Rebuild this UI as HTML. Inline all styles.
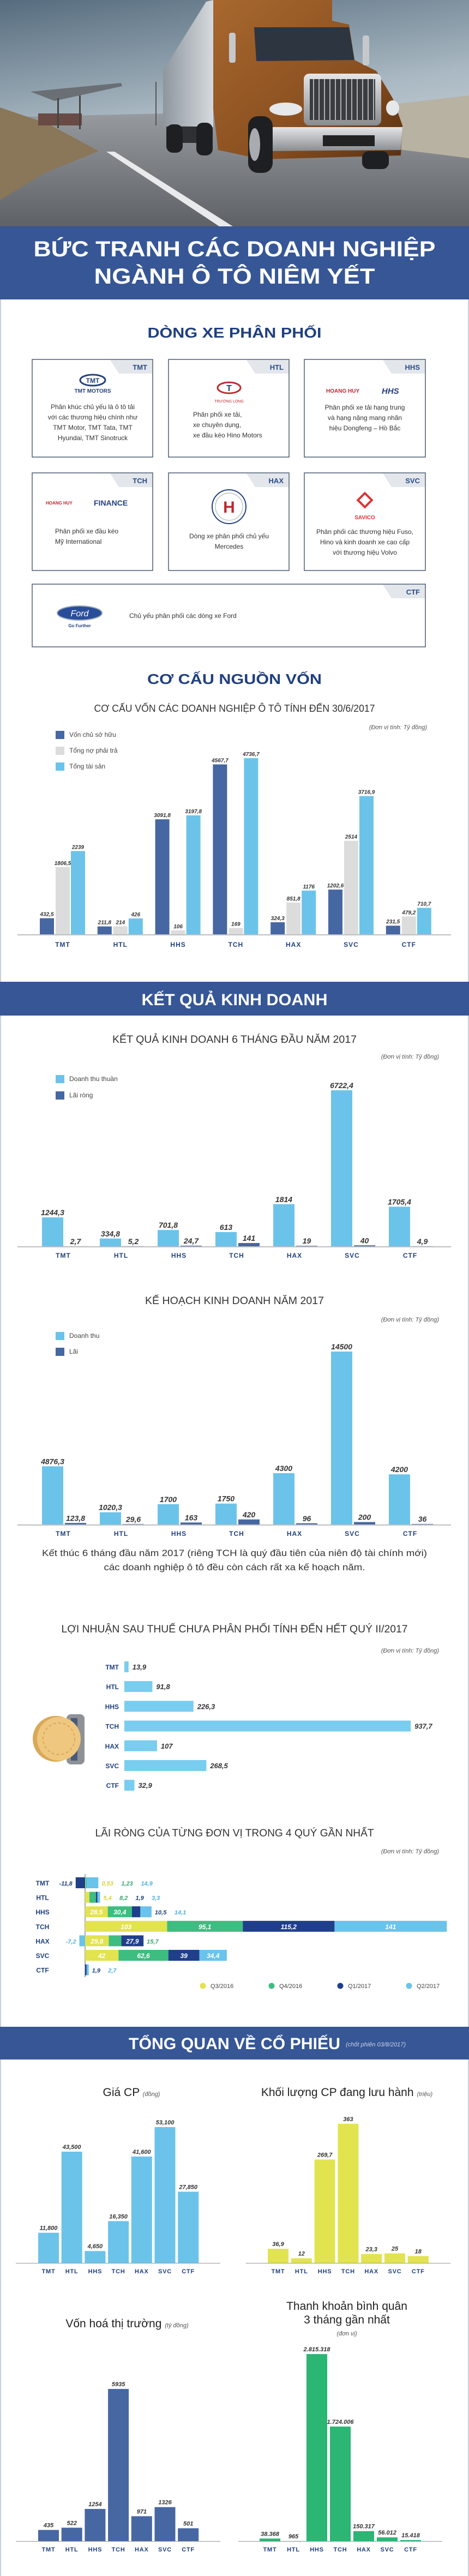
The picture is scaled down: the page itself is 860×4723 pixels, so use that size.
<!DOCTYPE html>
<html><head><meta charset="utf-8">
<style>
html,body{margin:0;padding:0;background:#fff;}
body{width:860px;height:4723px;overflow:hidden;position:relative;}
svg{position:absolute;left:0;top:0;}
text{font-family:"Liberation Sans",sans-serif;}
</style></head>
<body>
<svg id="page" width="860" height="4723" viewBox="0 0 860 4723">
<defs>
<linearGradient id="sky" x1="0" y1="0" x2="0.3" y2="1">
<stop offset="0" stop-color="#566c7e"/><stop offset="0.55" stop-color="#a9b8c2"/><stop offset="1" stop-color="#d3dadf"/>
</linearGradient>
<linearGradient id="road" x1="0" y1="0" x2="0" y2="1">
<stop offset="0" stop-color="#9a9ea2"/><stop offset="1" stop-color="#5e6267"/>
</linearGradient>
<linearGradient id="cab" x1="0" y1="0" x2="1" y2="1">
<stop offset="0" stop-color="#a8682f"/><stop offset="0.6" stop-color="#8a5020"/><stop offset="1" stop-color="#5a3012"/>
</linearGradient>
<linearGradient id="trailer" x1="0" y1="0" x2="1" y2="0">
<stop offset="0" stop-color="#8e969e"/><stop offset="1" stop-color="#d6dade"/>
</linearGradient>
<linearGradient id="chrome" x1="0" y1="0" x2="0" y2="1">
<stop offset="0" stop-color="#e4e6e8"/><stop offset="1" stop-color="#8a8d90"/>
</linearGradient>
</defs>
<!-- hero photo -->
<g>
<rect x="0" y="0" width="860" height="415" fill="url(#sky)"/>
<polygon points="0,215 860,195 860,415 0,415" fill="url(#road)"/>
<polygon points="690,195 860,175 860,290 700,270" fill="#b7b2a2"/>
<polygon points="0,197 88,227 181,277 82,317 0,367" fill="#8a7658"/>
<polygon points="195,278 210,278 430,417 405,417" fill="#e8eaec"/>
<polygon points="56,168 222,152 224,158 100,185" fill="#6a6f75"/>
<rect x="70" y="208" width="80" height="22" fill="#6a4a44"/>
<rect x="105" y="180" width="3" height="55" fill="#444"/><rect x="145" y="175" width="3" height="62" fill="#444"/>
<rect x="285" y="150" width="2" height="80" fill="#555"/>
<polygon points="299,130 378,3 391,0 391,233 299,230" fill="url(#trailer)"/>
<rect x="305" y="232" width="60" height="30" fill="#2e3034"/>
<polygon points="391,0 609,0 609,38 640,45 650,110 690,130 720,180 738,230 735,285 480,292 400,275 391,200" fill="url(#cab)"/>
<polygon points="466,50 640,50 650,110 470,112" fill="#2d3540"/>
<rect x="420" y="60" width="12" height="55" rx="4" fill="#c6c9cc"/>
<rect x="665" y="65" width="12" height="55" rx="4" fill="#c6c9cc"/>
<rect x="557" y="135" width="142" height="95" rx="10" fill="url(#chrome)"/>
<rect x="568" y="145" width="120" height="75" fill="#3a3c40"/>
<g stroke="#aeb1b4" stroke-width="2">
<line x1="575" y1="145" x2="575" y2="220"/><line x1="585" y1="145" x2="585" y2="220"/><line x1="595" y1="145" x2="595" y2="220"/><line x1="605" y1="145" x2="605" y2="220"/><line x1="615" y1="145" x2="615" y2="220"/><line x1="625" y1="145" x2="625" y2="220"/><line x1="635" y1="145" x2="635" y2="220"/><line x1="645" y1="145" x2="645" y2="220"/><line x1="655" y1="145" x2="655" y2="220"/><line x1="665" y1="145" x2="665" y2="220"/><line x1="675" y1="145" x2="675" y2="220"/><line x1="685" y1="145" x2="685" y2="220"/>
</g>
<ellipse cx="524" cy="200" rx="30" ry="12" fill="#e6e8ea"/>
<ellipse cx="720" cy="198" rx="12" ry="14" fill="#e6e8ea"/>
<polygon points="483,233 738,233 735,275 490,277" fill="url(#chrome)"/>
<rect x="592" y="248" width="95" height="20" fill="#222"/>
<rect x="455" y="213" width="45" height="104" rx="18" fill="#1e1f22"/>
<ellipse cx="467" cy="265" rx="10" ry="30" fill="#a8abaf"/>
<rect x="664" y="277" width="49" height="33" rx="12" fill="#1e1f22"/>
<rect x="360" y="225" width="30" height="60" rx="12" fill="#1e1f22"/>
<rect x="305" y="228" width="30" height="52" rx="12" fill="#1e1f22"/>
</g>
<!-- title banner -->
<rect x="0" y="415" width="860" height="134" fill="#365696"/>
<text x="430" y="470" text-anchor="middle" font-size="40" font-weight="bold" fill="#fff" textLength="737" lengthAdjust="spacingAndGlyphs">BỨC TRANH CÁC DOANH NGHIỆP</text>
<text x="430" y="520" text-anchor="middle" font-size="40" font-weight="bold" fill="#fff" textLength="515" lengthAdjust="spacingAndGlyphs">NGÀNH Ô TÔ NIÊM YẾT</text>
<!-- page side frame -->
<line x1="1" y1="549" x2="1" y2="4723" stroke="#c9d0da" stroke-width="2"/>
<line x1="859" y1="549" x2="859" y2="4723" stroke="#c9d0da" stroke-width="2"/>

<text x="430" y="619" text-anchor="middle" font-size="26" font-weight="bold" fill="#1f3f7f" textLength="319" lengthAdjust="spacingAndGlyphs">DÒNG XE PHÂN PHỐI</text>
<g id="cards"></g>

<text x="430" y="1254" text-anchor="middle" font-size="26" font-weight="bold" fill="#1f3f7f" textLength="320" lengthAdjust="spacingAndGlyphs">CƠ CẤU NGUỒN VỐN</text>
<text x="430" y="1305" text-anchor="middle" font-size="18" fill="#333" textLength="515" lengthAdjust="spacingAndGlyphs">CƠ CẤU VỐN CÁC DOANH NGHIỆP Ô TÔ TÍNH ĐẾN 30/6/2017</text>
<text x="783" y="1337" text-anchor="end" font-size="11" font-style="italic" fill="#555">(Đơn vị tính: Tỷ đồng)</text>

<rect x="0" y="1800" width="860" height="62" fill="#365696"/>
<text x="430" y="1843" text-anchor="middle" font-size="30" font-weight="bold" fill="#fff" textLength="341" lengthAdjust="spacingAndGlyphs">KẾT QUẢ KINH DOANH</text>

<text x="430" y="1912" text-anchor="middle" font-size="19" fill="#333" textLength="448" lengthAdjust="spacingAndGlyphs">KẾT QUẢ KINH DOANH 6 THÁNG ĐẦU NĂM 2017</text>
<text x="805" y="1941" text-anchor="end" font-size="11" font-style="italic" fill="#555">(Đơn vị tính: Tỷ đồng)</text>

<text x="430" y="2391" text-anchor="middle" font-size="19" fill="#333" textLength="328" lengthAdjust="spacingAndGlyphs">KẾ HOẠCH KINH DOANH NĂM 2017</text>
<text x="805" y="2423" text-anchor="end" font-size="11" font-style="italic" fill="#555">(Đơn vị tính: Tỷ đồng)</text>

<text x="430" y="2853" text-anchor="middle" font-size="17" fill="#333" textLength="706" lengthAdjust="spacingAndGlyphs">Kết thúc 6 tháng đầu năm 2017 (riêng TCH là quý đầu tiên của niên độ tài chính mới)</text>
<text x="430" y="2879" text-anchor="middle" font-size="17" fill="#333" textLength="479" lengthAdjust="spacingAndGlyphs">các doanh nghiệp ô tô đều còn cách rất xa kế hoạch năm.</text>

<text x="430" y="2993" text-anchor="middle" font-size="19" fill="#333" textLength="635" lengthAdjust="spacingAndGlyphs">LỢI NHUẬN SAU THUẾ CHƯA PHÂN PHỐI TÍNH ĐẾN HẾT QUÝ II/2017</text>
<text x="805" y="3030" text-anchor="end" font-size="11" font-style="italic" fill="#555">(Đơn vị tính: Tỷ đồng)</text>
<g>
<rect x="122" y="3143" width="33" height="92" rx="8" fill="#8e9196"/>
<rect x="130" y="3150" width="12" height="78" fill="#4a5a7a"/>
<circle cx="102" cy="3188" r="42" fill="#d9a95a"/>
<circle cx="108" cy="3188" r="40" fill="#efc77f"/>
<circle cx="108" cy="3188" r="29" fill="none" stroke="#d9a95a" stroke-width="2" stroke-dasharray="5 4"/>
</g>

<text x="430" y="3367" text-anchor="middle" font-size="19" fill="#333" textLength="511" lengthAdjust="spacingAndGlyphs">LÃI RÒNG CỦA TỪNG ĐƠN VỊ TRONG 4 QUÝ GẦN NHẤT</text>
<text x="805" y="3398" text-anchor="end" font-size="11" font-style="italic" fill="#555">(Đơn vị tính: Tỷ đồng)</text>

<rect x="0" y="3716" width="860" height="60" fill="#365696"/>
<text x="430" y="3757" text-anchor="middle" font-size="30" font-weight="bold" fill="#fff" textLength="388" lengthAdjust="spacingAndGlyphs">TỔNG QUAN VỀ CỔ PHIẾU</text>
<text x="634" y="3752" font-size="11" font-style="italic" fill="#c9d3e6">(chốt phiên 03/8/2017)</text>

<text x="241" y="3843" text-anchor="middle" font-size="21" fill="#222">Giá CP <tspan font-size="11" font-style="italic" fill="#555">(đồng)</tspan></text>
<text x="636" y="3843" text-anchor="middle" font-size="21" fill="#222">Khối lượng CP đang lưu hành <tspan font-size="11" font-style="italic" fill="#555">(triệu)</tspan></text>
<text x="233" y="4267" text-anchor="middle" font-size="21" fill="#222">Vốn hoá thị trường <tspan font-size="11" font-style="italic" fill="#555">(tỷ đồng)</tspan></text>
<text x="636" y="4235" text-anchor="middle" font-size="21" fill="#222">Thanh khoản bình quân</text>
<text x="636" y="4260" text-anchor="middle" font-size="21" fill="#222">3 tháng gần nhất</text>
<text x="636" y="4282" text-anchor="middle" font-size="11" font-style="italic" fill="#555">(đơn vị)</text>

<g id="charts"></g>
</svg>
<script>
const categories = ['TMT','HTL','HHS','TCH','HAX','SVC','CTF'];
const capEquity = [432.5, 211.8, 3091.8, 4567.7, 324.3, 1202.6, 231.5];
const capDebt = [1806.5, 214, 106, 169, 851.8, 2514, 479.2];
const capAssets = [2239, 426, 3197.8, 4736.7, 1176, 3716.9, 710.7];
const h1Revenue = [1244.3, 334.8, 701.8, 613, 1814, 6722.4, 1705.4];
const h1Profit = [2.7, 5.2, 24.7, 141, 19, 40, 4.9];
const planRevenue = [4876.3, 1020.3, 1700, 1750, 4300, 14500, 4200];
const planProfit = [123.8, 29.6, 163, 420, 96, 200, 36];
const retainedProfit = [13.9, 91.8, 226.3, 937.7, 107, 268.5, 32.9];
const profitQ3_2016 = [0.53, 5.4, 28.5, 103, 29.8, 42, 0];
const profitQ4_2016 = [1.23, 8.2, 30.4, 95.1, 15.7, 62.6, 0];
const profitQ1_2017 = [-11.8, 1.9, 10.5, 115.2, 27.9, 39, 1.9];
const profitQ2_2017 = [14.9, 3.3, 14.1, 141, -7.2, 34.4, 2.7];
const quarterLabels = ['Q3/2016','Q4/2016','Q1/2017','Q2/2017'];
const sharePrice = [11800, 43500, 4650, 16350, 41600, 53100, 27850];
const sharesOutstanding = [36.9, 12, 269.7, 363, 23.3, 25, 18];
const marketCap = [435, 522, 1254, 5935, 971, 1326, 501];
const avgLiquidity = [38368, 965, 2815318, 1724006, 150317, 56012, 15418];

const NS = 'http://www.w3.org/2000/svg';
const root = document.getElementById('charts');
function mk(tag, attrs, parent) {
  const e = document.createElementNS(NS, tag);
  for (const k in attrs) e.setAttribute(k, attrs[k]);
  (parent || root).appendChild(e);
  return e;
}
function txt(str, attrs, parent) { const t = mk('text', attrs, parent); t.textContent = str; return t; }
const vn = v => String(v).replace('.', ',');
const thousandsComma = v => String(v).replace(/\B(?=(\d{3})+(?!\d))/g, ',');
const thousandsDot = v => String(v).replace(/\B(?=(\d{3})+(?!\d))/g, '.');

/* ---------- cards ---------- */
const cardsG = document.getElementById('cards');
const cardDefs = [
  {code:'TMT', x:59, y:659, w:221, h:179, lines:['Phân khúc chủ yếu là ô tô tải','với các thương hiệu chính như','TMT Motor, TMT Tata, TMT','Hyundai, TMT Sinotruck'], tx:170, ty:750, anchor:'middle'},
  {code:'HTL', x:309, y:659, w:221, h:179, lines:['Phân phối xe tải,','xe chuyên dụng,','xe đầu kéo Hino Motors'], tx:354, ty:764, anchor:'start'},
  {code:'HHS', x:558, y:659, w:222, h:179, lines:['Phân phối xe tải hạng trung','và hạng nặng mang nhãn','hiệu Dongfeng – Hồ Bắc'], tx:669, ty:751, anchor:'middle'},
  {code:'TCH', x:59, y:867, w:221, h:179, lines:['Phân phối xe đầu kéo','Mỹ International'], tx:101, ty:978, anchor:'start'},
  {code:'HAX', x:309, y:867, w:221, h:179, lines:['Dòng xe phân phối chủ yếu','Mercedes'], tx:420, ty:987, anchor:'middle'},
  {code:'SVC', x:558, y:867, w:222, h:179, lines:['Phân phối các thương hiệu Fuso,','Hino và kinh doanh xe cao cấp','với thương hiệu Volvo'], tx:669, ty:979, anchor:'middle'},
  {code:'CTF', x:59, y:1071, w:721, h:115, lines:['Chủ yếu phân phối các dòng xe Ford'], tx:237, ty:1133, anchor:'start'}
];
cardDefs.forEach(c => {
  const g = mk('g', {}, cardsG);
  
  
  mk('rect', {x:c.x, y:c.y, width:c.w, height:c.h, fill:'#fff', stroke:'#4c5c72', 'stroke-width':1.5}, g);
  const r = c.x + c.w;
  mk('polygon', {points:`${r-78},${c.y+1} ${r-1},${c.y+1} ${r-1},${c.y+26} ${r-62},${c.y+26}`, fill:'#e3e7ec'}, g);
  txt(c.code, {x:r-10, y:c.y+19, 'text-anchor':'end', 'font-size':13, 'font-weight':'bold', fill:'#2a4a8a'}, g);
  c.lines.forEach((l, i) => txt(l, {x:c.tx, y:c.ty + i*19, 'text-anchor':c.anchor, 'font-size':12, fill:'#333'}, g));
});
/* logos */
(function(){
  const g = mk('g', {}, cardsG);
  
  
  mk('ellipse', {cx:170, cy:697, rx:23, ry:10, fill:'none', stroke:'#22407f', 'stroke-width':3}, g);
  txt('TMT', {x:170, y:702, 'text-anchor':'middle', 'font-size':12, 'font-weight':'bold', fill:'#22407f'}, g);
  txt('TMT MOTORS', {x:170, y:720, 'text-anchor':'middle', 'font-size':10, 'font-weight':'bold', fill:'#22407f'}, g);
  mk('ellipse', {cx:420, cy:711, rx:21, ry:10, fill:'#fff', stroke:'#c0282d', 'stroke-width':3}, g);
  txt('T', {x:420, y:717, 'text-anchor':'middle', 'font-size':16, 'font-weight':'bold', fill:'#22407f'}, g);
  txt('TRƯỜNG LONG', {x:420, y:738, 'text-anchor':'middle', 'font-size':7, fill:'#c0282d'}, g);
  txt('HOANG HUY', {x:598, y:720, 'font-size':10, 'font-weight':'bold', fill:'#c0282d'}, g);
  txt('HHS', {x:700, y:722, 'font-size':15, 'font-style':'italic', 'font-weight':'bold', fill:'#22407f'}, g);
  txt('HOANG HUY', {x:84, y:925, 'font-size':8, 'font-weight':'bold', fill:'#c0282d'}, g);
  txt('FINANCE', {x:172, y:927, 'font-size':14, 'font-weight':'bold', fill:'#22407f'}, g);
  mk('circle', {cx:420, cy:929, r:31, fill:'#fff', stroke:'#22407f', 'stroke-width':2}, g);
  mk('circle', {cx:420, cy:929, r:25, fill:'none', stroke:'#9aa', 'stroke-width':1}, g);
  txt('H', {x:420, y:940, 'text-anchor':'middle', 'font-size':30, 'font-weight':'bold', fill:'#c0282d', 'font-family':'Liberation Serif, serif'}, g);
  mk('polygon', {points:'669,900 686,917 669,934 652,917', fill:'#d33', stroke:'#fff', 'stroke-width':2}, g);
  mk('polygon', {points:'669,907 679,917 669,927 659,917', fill:'#fff'}, g);
  txt('SAVICO', {x:669, y:952, 'text-anchor':'middle', 'font-size':10, 'font-weight':'bold', fill:'#d33'}, g);
  mk('ellipse', {cx:146, cy:1124, rx:41, ry:13, fill:'#2a4d9a', stroke:'#9ab', 'stroke-width':2}, g);
  txt('Ford', {x:146, y:1130, 'text-anchor':'middle', 'font-size':16, 'font-style':'italic', fill:'#fff', 'font-family':'Liberation Serif, serif'}, g);
  txt('Go Further', {x:146, y:1150, 'text-anchor':'middle', 'font-size':8, 'font-weight':'bold', fill:'#22407f'}, g);
})();

/* ---------- vertical grouped bars ---------- */
function legend(items, x, y0, dy, nm) {
  const g = mk('g', {});
  
  
  items.forEach((it, i) => {
    const y = y0 + i*dy;
    mk('rect', {x:x, y:y-7, width:16, height:15, fill:it[1]}, g);
    txt(it[0], {x:x+25, y:y+4, 'font-size':12, fill:'#444'}, g);
  });
}
function groupedChart(o) {
  const g = mk('g', {});
  
  
  mk('line', {x1:o.ax0, x2:o.ax1, y1:o.base+1, y2:o.base+1, stroke:'#aaa', 'stroke-width':1.5}, g);
  categories.forEach((cat, i) => {
    const cx = o.cx0 + i*o.step;
    o.series.forEach((s, k) => {
      const v = s.data[i];
      const h = v * o.scale;
      const bx = cx + o.offsets[k];
      const b = mk('rect', {x:bx, y:o.base - h, width:o.bw, height:h, fill:s.color}, g);
      
      
      txt(o.fmt(v), {x:bx + o.bw/2, y:o.base - h - 4, 'text-anchor':'middle', 'font-size':o.fs, 'font-style':'italic', 'font-weight':'bold', fill:'#333'}, g);
    });
    const t = txt(cat, {x:cx + o.labelDx, y:o.base + o.labelDy, 'text-anchor':'middle', 'font-size':o.cfs, 'font-weight':'bold', fill:'#1f3f7f', 'letter-spacing':1}, g);
    
    
  });
}
legend([['Vốn chủ sở hữu','#4767a3'],['Tổng nợ phải trả','#dcdcdc'],['Tổng tài sản','#6cc3ea']], 102, 1347, 29, 'capital-legend');
groupedChart({name:'capital-chart', base:1713, scale:0.0682, cx0:114, step:105.8, bw:26, offsets:[-41,-12,16], fs:10, cfs:12, labelDx:1, labelDy:23, ax0:32, ax1:827, fmt:vn,
  series:[{key:'equity', data:capEquity, color:'#4767a3'},{key:'debt', data:capDebt, color:'#dcdcdc'},{key:'assets', data:capAssets, color:'#6cc3ea'}]});

legend([['Doanh thu thuần','#6cc3ea'],['Lãi ròng','#4767a3']], 102, 1978, 30, 'h1-legend');
groupedChart({name:'h1-results-chart', base:2285, scale:0.04255, cx0:116, step:106, bw:39, offsets:[-39,3], fs:14, cfs:12, labelDx:0, labelDy:21, ax0:32, ax1:827, fmt:vn,
  series:[{key:'revenue', data:h1Revenue, color:'#6cc3ea'},{key:'profit', data:h1Profit, color:'#4767a3'}]});

legend([['Doanh thu','#6cc3ea'],['Lãi','#4767a3']], 102, 2449, 29, 'plan-legend');
groupedChart({name:'plan-chart', base:2795, scale:0.02186, cx0:116, step:106, bw:39, offsets:[-39,3], fs:14, cfs:12, labelDx:0, labelDy:21, ax0:32, ax1:827, fmt:vn,
  series:[{key:'revenue', data:planRevenue, color:'#6cc3ea'},{key:'profit', data:planProfit, color:'#4767a3'}]});

/* ---------- retained profit horizontal bars ---------- */
(function(){
  const g = mk('g', {});
  
  
  const x0 = 228, scale = 0.56;
  categories.forEach((cat, i) => {
    const yc = 3056 + i*36.2;
    const w = retainedProfit[i]*scale;
    const b = mk('rect', {x:x0, y:yc-10, width:w, height:20, fill:'#79cdee'}, g);
    
    
    txt(cat, {x:218, y:yc+5, 'text-anchor':'end', 'font-size':12, 'font-weight':'bold', fill:'#1f3f7f'}, g);
    txt(vn(retainedProfit[i]), {x:x0+w+7, y:yc+5, 'font-size':13, 'font-style':'italic', 'font-weight':'bold', fill:'#333'}, g);
  });
})();

/* ---------- quarterly stacked bars ---------- */
(function(){
  const g = mk('g', {});
  
  
  const ax = 156, scale = 1.46;
  const qs = [profitQ3_2016, profitQ4_2016, profitQ1_2017, profitQ2_2017];
  const qColors = ['#e2e34f','#3dbd80','#1f3f8a','#69c3ea'];
  const qText = ['#d6d63a','#3aa874','#1f3f7f','#4fb2e0'];
  mk('line', {x1:ax, x2:ax, y1:3436, y2:3625, stroke:'#555', 'stroke-width':1}, g);
  categories.forEach((cat, i) => {
    const yc = 3452 + i*26.6;
    txt(cat, {x:78, y:yc+5, 'text-anchor':'middle', 'font-size':12, 'font-weight':'bold', fill:'#1f3f7f'}, g);
    let pos = ax, neg = ax;
    const outside = [], negLabels = [];
    qs.forEach((arr, k) => {
      const v = arr[i];
      if (!v) return;
      const w = Math.abs(v)*scale;
      let bx;
      if (v > 0) { bx = pos; pos += w; } else { neg -= w; bx = neg; }
      const b = mk('rect', {x:bx, y:yc-10, width:w, height:20, fill:qColors[k]}, g);
      
      
      if (v < 0) negLabels.push([vn(v), k]);
      else if (w >= 35) txt(vn(v), {x:bx+w/2, y:yc+5, 'text-anchor':'middle', 'font-size':12, 'font-style':'italic', 'font-weight':'bold', fill:'#fff'}, g);
      else outside.push([vn(v), k]);
    });
    let lx = pos + 6;
    outside.forEach(o => {
      txt(o[0], {x:lx, y:yc+5, 'font-size':11, 'font-style':'italic', 'font-weight':'bold', fill:qText[o[1]]}, g);
      lx += o[0].length*6.5 + 10;
    });
    negLabels.forEach(o => txt(o[0], {x:neg - 6, y:yc+5, 'text-anchor':'end', 'font-size':11, 'font-style':'italic', 'font-weight':'bold', fill: o[1]===2 ? '#1f3f7f' : qText[o[1]]}, g));
  });
  quarterLabels.forEach((q, k) => {
    const x = 372 + k*126;
    const c = mk('circle', {cx:x, cy:3641, r:5.5, fill:qColors[k]}, g);
    
    
    txt(q, {x:x+14, y:3645, 'font-size':11, fill:'#444'}, g);
  });
})();

/* ---------- stock overview charts ---------- */
function stockChart(o) {
  const g = mk('g', {});
  
  
  mk('line', {x1:o.ax0, x2:o.ax1, y1:o.base+0.5, y2:o.base+0.5, stroke:'#999', 'stroke-width':1}, g);
  categories.forEach((cat, i) => {
    const cx = o.cx0 + i*o.step;
    const h = o.data[i]*o.scale;
    const b = mk('rect', {x:cx-19, y:o.base-h, width:38, height:h, fill:o.color}, g);
    
    
    txt(o.fmt(o.data[i]), {x:cx, y:o.base-h-5, 'text-anchor':'middle', 'font-size':11, 'font-style':'italic', 'font-weight':'bold', fill:'#333'}, g);
    txt(cat, {x:cx, y:o.base+19, 'text-anchor':'middle', 'font-size':11, 'font-weight':'bold', fill:'#1f3f7f', 'letter-spacing':0.8}, g);
  });
}
stockChart({name:'price-chart', data:sharePrice, base:4149, scale:0.00469, cx0:89, step:42.7, ax0:29, ax1:404, color:'#6cc3ea', fmt:thousandsComma});
stockChart({name:'shares-chart', data:sharesOutstanding, base:4149, scale:0.703, cx0:510, step:42.8, ax0:451, ax1:826, color:'#e2e44f', fmt:vn});
stockChart({name:'mcap-chart', data:marketCap, base:4659, scale:0.047, cx0:89, step:42.7, ax0:29, ax1:404, color:'#4767a3', fmt:String});
stockChart({name:'liquidity-chart', data:avgLiquidity, base:4659, scale:0.0001218, cx0:495, step:43, ax0:437, ax1:811, color:'#2bb673', fmt:thousandsDot});
</script>
</body></html>
